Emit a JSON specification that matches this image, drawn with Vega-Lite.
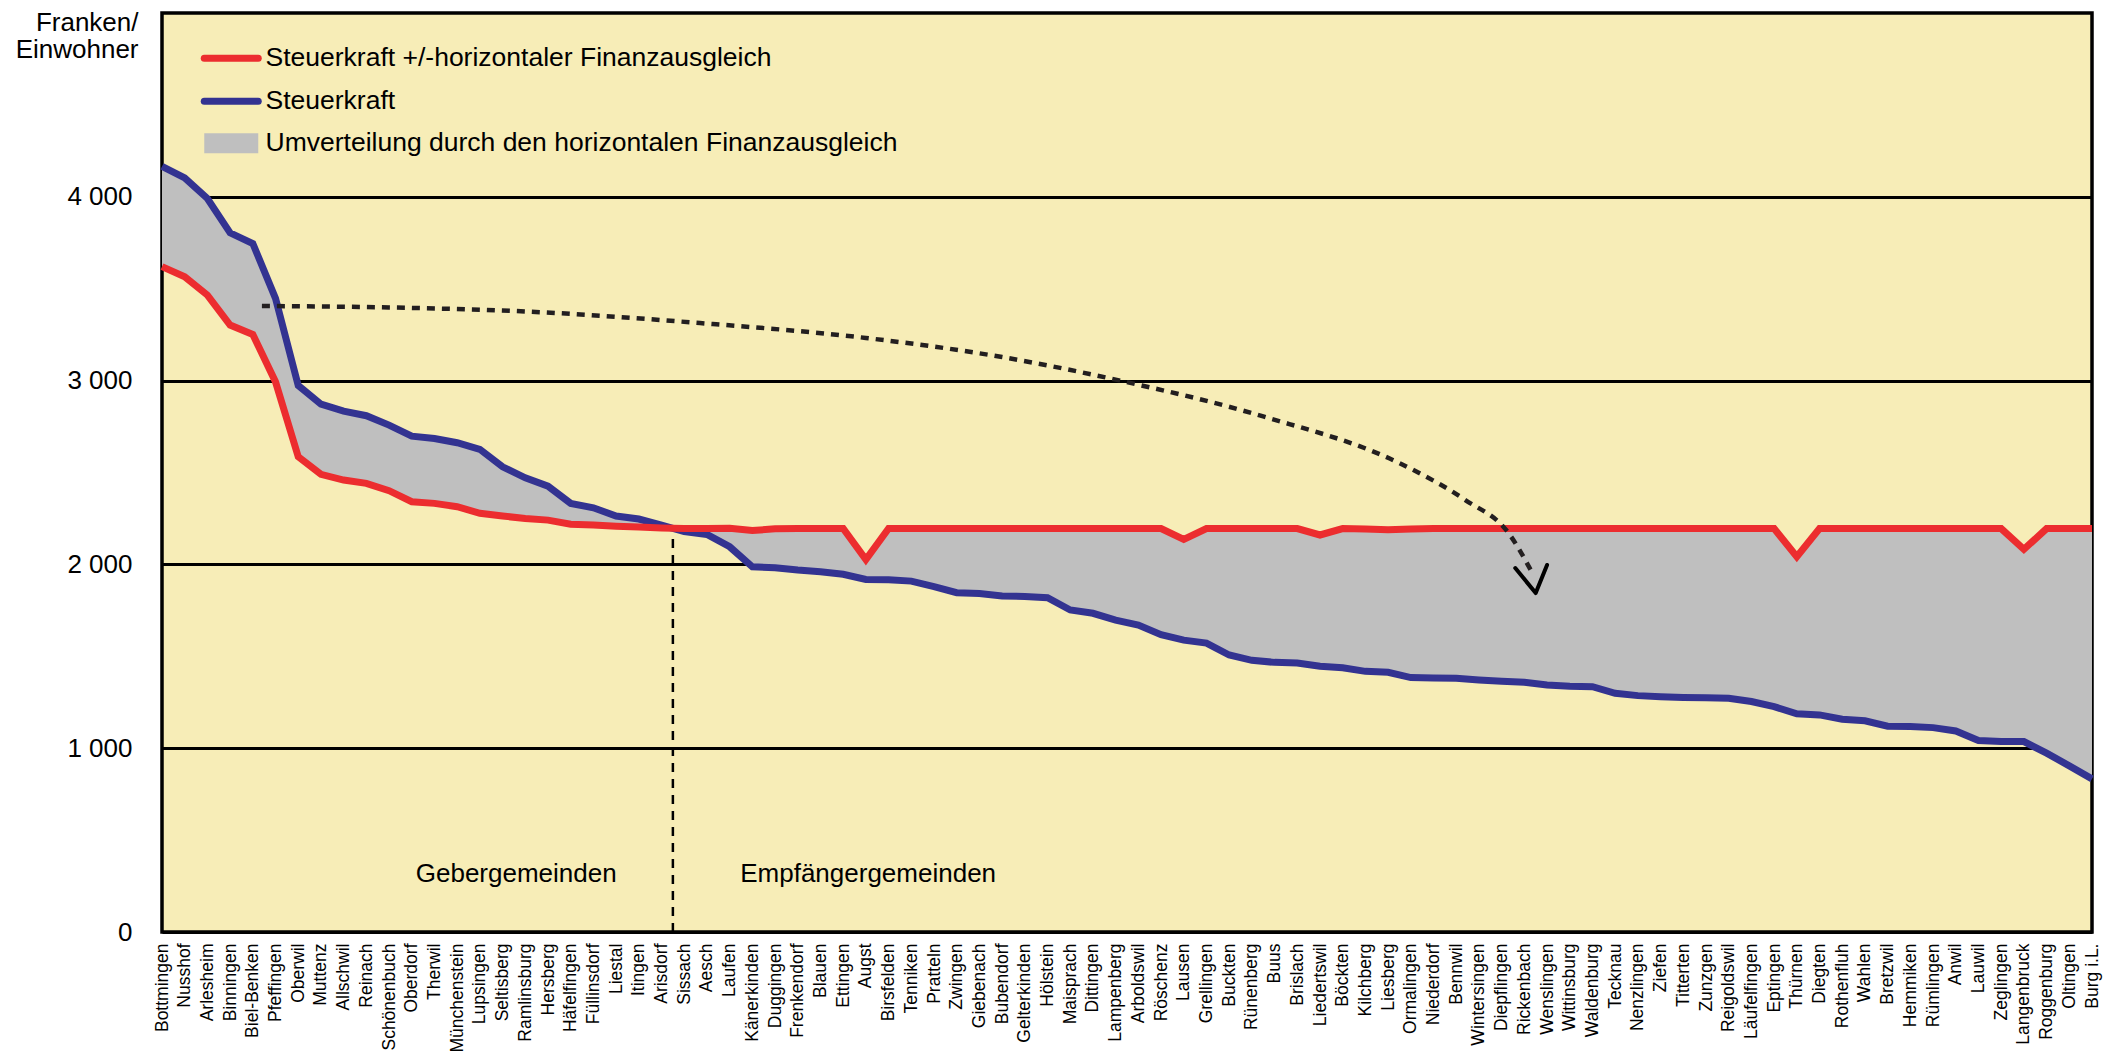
{
  "$schema": "https://vega.github.io/schema/vega-lite/v6.json",
  "width": 1930,
  "height": 919,
  "autosize": {"type": "none"},
  "padding": {"left": 162, "top": 13, "right": 27, "bottom": 124},
  "background": "#ffffff",
  "config": {
    "font": "Liberation Sans",
    "view": {"fill": "#f7edb7", "stroke": "#000000", "strokeWidth": 3.5}
  },
  "datasets": {
    "gemeinden": [
      {"i": 0, "name": "Bottmingen", "Steuerkraft": 4165, "nach_FA": 3620},
      {"i": 1, "name": "Nusshof", "Steuerkraft": 4103, "nach_FA": 3565},
      {"i": 2, "name": "Arlesheim", "Steuerkraft": 3991, "nach_FA": 3465},
      {"i": 3, "name": "Binningen", "Steuerkraft": 3804, "nach_FA": 3302},
      {"i": 4, "name": "Biel-Benken", "Steuerkraft": 3746, "nach_FA": 3251},
      {"i": 5, "name": "Pfeffingen", "Steuerkraft": 3447, "nach_FA": 2993},
      {"i": 6, "name": "Oberwil", "Steuerkraft": 2973, "nach_FA": 2586},
      {"i": 7, "name": "Muttenz", "Steuerkraft": 2872, "nach_FA": 2490},
      {"i": 8, "name": "Allschwil", "Steuerkraft": 2834, "nach_FA": 2459},
      {"i": 9, "name": "Reinach", "Steuerkraft": 2809, "nach_FA": 2441},
      {"i": 10, "name": "Schönenbuch", "Steuerkraft": 2758, "nach_FA": 2401},
      {"i": 11, "name": "Oberdorf", "Steuerkraft": 2698, "nach_FA": 2341},
      {"i": 12, "name": "Therwil", "Steuerkraft": 2685, "nach_FA": 2332},
      {"i": 13, "name": "Münchenstein", "Steuerkraft": 2662, "nach_FA": 2314},
      {"i": 14, "name": "Lupsingen", "Steuerkraft": 2626, "nach_FA": 2278},
      {"i": 15, "name": "Seltisberg", "Steuerkraft": 2531, "nach_FA": 2263},
      {"i": 16, "name": "Ramlinsburg", "Steuerkraft": 2471, "nach_FA": 2250},
      {"i": 17, "name": "Hersberg", "Steuerkraft": 2426, "nach_FA": 2241},
      {"i": 18, "name": "Häfelfingen", "Steuerkraft": 2332, "nach_FA": 2219},
      {"i": 19, "name": "Füllinsdorf", "Steuerkraft": 2308, "nach_FA": 2214},
      {"i": 20, "name": "Liestal", "Steuerkraft": 2263, "nach_FA": 2208},
      {"i": 21, "name": "Itingen", "Steuerkraft": 2247, "nach_FA": 2203},
      {"i": 22, "name": "Arisdorf", "Steuerkraft": 2214, "nach_FA": 2198},
      {"i": 23, "name": "Sissach", "Steuerkraft": 2178, "nach_FA": 2195},
      {"i": 24, "name": "Aesch", "Steuerkraft": 2163, "nach_FA": 2195},
      {"i": 25, "name": "Laufen", "Steuerkraft": 2096, "nach_FA": 2196},
      {"i": 26, "name": "Känerkinden", "Steuerkraft": 1987, "nach_FA": 2184},
      {"i": 27, "name": "Duggingen", "Steuerkraft": 1982, "nach_FA": 2194},
      {"i": 28, "name": "Frenkendorf", "Steuerkraft": 1969, "nach_FA": 2195},
      {"i": 29, "name": "Blauen", "Steuerkraft": 1960, "nach_FA": 2195},
      {"i": 30, "name": "Ettingen", "Steuerkraft": 1946, "nach_FA": 2195},
      {"i": 31, "name": "Augst", "Steuerkraft": 1918, "nach_FA": 2026},
      {"i": 32, "name": "Birsfelden", "Steuerkraft": 1917, "nach_FA": 2195},
      {"i": 33, "name": "Tenniken", "Steuerkraft": 1909, "nach_FA": 2195},
      {"i": 34, "name": "Pratteln", "Steuerkraft": 1879, "nach_FA": 2195},
      {"i": 35, "name": "Zwingen", "Steuerkraft": 1846, "nach_FA": 2195},
      {"i": 36, "name": "Giebenach", "Steuerkraft": 1842, "nach_FA": 2195},
      {"i": 37, "name": "Bubendorf", "Steuerkraft": 1828, "nach_FA": 2195},
      {"i": 38, "name": "Gelterkinden", "Steuerkraft": 1826, "nach_FA": 2195},
      {"i": 39, "name": "Hölstein", "Steuerkraft": 1819, "nach_FA": 2195},
      {"i": 40, "name": "Maisprach", "Steuerkraft": 1752, "nach_FA": 2195},
      {"i": 41, "name": "Dittingen", "Steuerkraft": 1734, "nach_FA": 2195},
      {"i": 42, "name": "Lampenberg", "Steuerkraft": 1697, "nach_FA": 2195},
      {"i": 43, "name": "Arboldswil", "Steuerkraft": 1670, "nach_FA": 2195},
      {"i": 44, "name": "Röschenz", "Steuerkraft": 1618, "nach_FA": 2195},
      {"i": 45, "name": "Lausen", "Steuerkraft": 1588, "nach_FA": 2136},
      {"i": 46, "name": "Grellingen", "Steuerkraft": 1572, "nach_FA": 2195},
      {"i": 47, "name": "Buckten", "Steuerkraft": 1507, "nach_FA": 2195},
      {"i": 48, "name": "Rünenberg", "Steuerkraft": 1478, "nach_FA": 2195},
      {"i": 49, "name": "Buus", "Steuerkraft": 1467, "nach_FA": 2195},
      {"i": 50, "name": "Brislach", "Steuerkraft": 1464, "nach_FA": 2195},
      {"i": 51, "name": "Liedertswil", "Steuerkraft": 1446, "nach_FA": 2160},
      {"i": 52, "name": "Böckten", "Steuerkraft": 1438, "nach_FA": 2195},
      {"i": 53, "name": "Kilchberg", "Steuerkraft": 1418, "nach_FA": 2192},
      {"i": 54, "name": "Liesberg", "Steuerkraft": 1413, "nach_FA": 2188},
      {"i": 55, "name": "Ormalingen", "Steuerkraft": 1384, "nach_FA": 2193},
      {"i": 56, "name": "Niederdorf", "Steuerkraft": 1382, "nach_FA": 2195},
      {"i": 57, "name": "Bennwil", "Steuerkraft": 1380, "nach_FA": 2195},
      {"i": 58, "name": "Wintersingen", "Steuerkraft": 1371, "nach_FA": 2195},
      {"i": 59, "name": "Diepflingen", "Steuerkraft": 1364, "nach_FA": 2195},
      {"i": 60, "name": "Rickenbach", "Steuerkraft": 1359, "nach_FA": 2195},
      {"i": 61, "name": "Wenslingen", "Steuerkraft": 1344, "nach_FA": 2195},
      {"i": 62, "name": "Wittinsburg", "Steuerkraft": 1337, "nach_FA": 2195},
      {"i": 63, "name": "Waldenburg", "Steuerkraft": 1335, "nach_FA": 2195},
      {"i": 64, "name": "Tecknau", "Steuerkraft": 1299, "nach_FA": 2195},
      {"i": 65, "name": "Nenzlingen", "Steuerkraft": 1286, "nach_FA": 2195},
      {"i": 66, "name": "Ziefen", "Steuerkraft": 1280, "nach_FA": 2195},
      {"i": 67, "name": "Titterten", "Steuerkraft": 1276, "nach_FA": 2195},
      {"i": 68, "name": "Zunzgen", "Steuerkraft": 1274, "nach_FA": 2195},
      {"i": 69, "name": "Reigoldswil", "Steuerkraft": 1272, "nach_FA": 2195},
      {"i": 70, "name": "Läufelfingen", "Steuerkraft": 1254, "nach_FA": 2195},
      {"i": 71, "name": "Eptingen", "Steuerkraft": 1226, "nach_FA": 2195},
      {"i": 72, "name": "Thürnen", "Steuerkraft": 1187, "nach_FA": 2042},
      {"i": 73, "name": "Diegten", "Steuerkraft": 1181, "nach_FA": 2195},
      {"i": 74, "name": "Rothenfluh", "Steuerkraft": 1158, "nach_FA": 2195},
      {"i": 75, "name": "Wahlen", "Steuerkraft": 1149, "nach_FA": 2195},
      {"i": 76, "name": "Bretzwil", "Steuerkraft": 1120, "nach_FA": 2195},
      {"i": 77, "name": "Hemmiken", "Steuerkraft": 1118, "nach_FA": 2195},
      {"i": 78, "name": "Rümlingen", "Steuerkraft": 1112, "nach_FA": 2195},
      {"i": 79, "name": "Anwil", "Steuerkraft": 1094, "nach_FA": 2195},
      {"i": 80, "name": "Lauwil", "Steuerkraft": 1042, "nach_FA": 2195},
      {"i": 81, "name": "Zeglingen", "Steuerkraft": 1036, "nach_FA": 2195},
      {"i": 82, "name": "Langenbruck", "Steuerkraft": 1036, "nach_FA": 2082},
      {"i": 83, "name": "Roggenburg", "Steuerkraft": 973, "nach_FA": 2195},
      {"i": 84, "name": "Oltingen", "Steuerkraft": 904, "nach_FA": 2195},
      {"i": 85, "name": "Burg i.L.", "Steuerkraft": 833, "nach_FA": 2195}
    ],
    "pfeil": [
      {"x": 4.4, "y": 3406},
      {"x": 10, "y": 3398},
      {"x": 16, "y": 3376},
      {"x": 23.7, "y": 3313},
      {"x": 31, "y": 3232},
      {"x": 37, "y": 3128},
      {"x": 42.3, "y": 2997},
      {"x": 48.5, "y": 2805},
      {"x": 54.6, "y": 2545},
      {"x": 57.4, "y": 2350},
      {"x": 59.3, "y": 2171},
      {"x": 60.4, "y": 1942}
    ],
    "pfeilspitze": [
      {"x": 59.6, "y": 1980},
      {"x": 60.5, "y": 1844},
      {"x": 61.0, "y": 1997}
    ],
    "trenner": [{"x": 22.5, "y": 0, "y2": 2168}],
    "beschriftung": [
      {"x": 15.6, "y": 313, "text": "Gebergemeinden"},
      {"x": 31.1, "y": 313, "text": "Empfängergemeinden"}
    ]
  },
  "layer": [
    {
      "data": {"name": "gemeinden"},
      "mark": {"type": "area", "fill": "#bfbfbf", "opacity": 1},
      "encoding": {
        "x": {
          "field": "i",
          "type": "quantitative",
          "scale": {"domain": [0, 85], "nice": false, "zero": false},
          "axis": {
            "title": null,
            "values": [0,1,2,3,4,5,6,7,8,9,10,11,12,13,14,15,16,17,18,19,20,21,22,23,24,25,26,27,28,29,30,31,32,33,34,35,36,37,38,39,40,41,42,43,44,45,46,47,48,49,50,51,52,53,54,55,56,57,58,59,60,61,62,63,64,65,66,67,68,69,70,71,72,73,74,75,76,77,78,79,80,81,82,83,84,85],
            "tickCount": 200,
            "labelExpr": "['Bottmingen','Nusshof','Arlesheim','Binningen','Biel-Benken','Pfeffingen','Oberwil','Muttenz','Allschwil','Reinach','Schönenbuch','Oberdorf','Therwil','Münchenstein','Lupsingen','Seltisberg','Ramlinsburg','Hersberg','Häfelfingen','Füllinsdorf','Liestal','Itingen','Arisdorf','Sissach','Aesch','Laufen','Känerkinden','Duggingen','Frenkendorf','Blauen','Ettingen','Augst','Birsfelden','Tenniken','Pratteln','Zwingen','Giebenach','Bubendorf','Gelterkinden','Hölstein','Maisprach','Dittingen','Lampenberg','Arboldswil','Röschenz','Lausen','Grellingen','Buckten','Rünenberg','Buus','Brislach','Liedertswil','Böckten','Kilchberg','Liesberg','Ormalingen','Niederdorf','Bennwil','Wintersingen','Diepflingen','Rickenbach','Wenslingen','Wittinsburg','Waldenburg','Tecknau','Nenzlingen','Ziefen','Titterten','Zunzgen','Reigoldswil','Läufelfingen','Eptingen','Thürnen','Diegten','Rothenfluh','Wahlen','Bretzwil','Hemmiken','Rümlingen','Anwil','Lauwil','Zeglingen','Langenbruck','Roggenburg','Oltingen','Burg i.L.'][datum.value]",
            "labelAngle": -90,
            "labelAlign": "right",
            "labelBaseline": "middle",
            "labelFontSize": 17.5,
            "labelColor": "#000000",
            "labelPadding": 11,
            "labelOverlap": false,
            "labelFlush": false,
            "labelBound": false,
            "ticks": false,
            "domain": false,
            "grid": false
          }
        },
        "y": {
          "field": "Steuerkraft",
          "type": "quantitative",
          "scale": {"domain": [0, 5000], "nice": false},
          "axis": {
            "title": ["Franken/", "Einwohner"],
            "titleAngle": 0,
            "titleAlign": "right",
            "titleBaseline": "top",
            "titleX": -24,
            "titleY": -4,
            "titleFontSize": 26,
            "titleFontWeight": "normal",
            "titleLineHeight": 27,
            "titleColor": "#000000",
            "values": [0, 1000, 2000, 3000, 4000],
            "labelExpr": "replace(format(datum.value, ','), ',', ' ')",
            "labelFontSize": 26,
            "labelColor": "#000000",
            "labelPadding": 30,
            "ticks": false,
            "domain": false,
            "grid": true,
            "gridColor": "#000000",
            "gridWidth": 3,
            "gridOpacity": 1
          }
        },
        "y2": {"field": "nach_FA"}
      }
    },
    {
      "data": {"name": "gemeinden"},
      "transform": [{"fold": ["Steuerkraft", "nach_FA"], "as": ["series", "value"]}],
      "mark": {"type": "line", "strokeWidth": 7, "strokeJoin": "miter", "strokeCap": "butt"},
      "encoding": {
        "x": {"field": "i", "type": "quantitative"},
        "y": {"field": "value", "type": "quantitative"},
        "color": {
          "field": "series",
          "type": "nominal",
          "scale": {
            "domain": ["nach_FA", "Steuerkraft", "Umverteilung"],
            "range": ["#ec2d2f", "#333391", "#bfbfbf"]
          },
          "legend": {
            "orient": "none",
            "legendX": 56,
            "legendY": 32,
            "title": null,
            "padding": 0,
            "labelFontSize": 26.5,
            "labelColor": "#000000",
            "labelLimit": 2000,
            "labelOffset": 21,
            "symbolSize": 1296,
            "rowPadding": 14,
            "symbolType": "M-1.5,0H1.5",
            "labelExpr": "datum.value == 'nach_FA' ? 'Steuerkraft +/-horizontaler Finanzausgleich' : datum.value == 'Steuerkraft' ? 'Steuerkraft' : 'Umverteilung durch den horizontalen Finanzausgleich'",
            "encode": {
              "symbols": {
                "update": {
                  "shape": {"signal": "datum.index == 2 ? 'M-1.5,-0.56H1.5V0.56H-1.5Z' : 'M-1.5,0H1.5'"},
                  "fill": {"signal": "datum.index == 2 ? '#bfbfbf' : 'transparent'"},
                  "stroke": {"signal": "datum.index == 0 ? '#ec2d2f' : datum.index == 1 ? '#333391' : 'transparent'"},
                  "strokeWidth": {"signal": "datum.index == 2 ? 0 : 7"},
                  "strokeCap": {"value": "round"},
                  "opacity": {"value": 1},
                  "fillOpacity": {"value": 1}
                }
              }
            }
          }
        }
      }
    },
    {
      "data": {"name": "trenner"},
      "mark": {"type": "rule", "color": "#000000", "strokeWidth": 2.5, "strokeDash": [9, 7]},
      "encoding": {
        "x": {"field": "x", "type": "quantitative"},
        "y": {"field": "y", "type": "quantitative"},
        "y2": {"field": "y2"}
      }
    },
    {
      "data": {"name": "pfeil"},
      "mark": {"type": "line", "color": "#231f20", "strokeWidth": 4.5, "strokeDash": [8, 7], "interpolate": "monotone"},
      "encoding": {
        "x": {"field": "x", "type": "quantitative"},
        "y": {"field": "y", "type": "quantitative"}
      }
    },
    {
      "data": {"name": "pfeilspitze"},
      "mark": {"type": "line", "color": "#000000", "strokeWidth": 4, "strokeCap": "round", "strokeJoin": "round"},
      "encoding": {
        "x": {"field": "x", "type": "quantitative"},
        "y": {"field": "y", "type": "quantitative"}
      }
    },
    {
      "data": {"name": "beschriftung"},
      "mark": {"type": "text", "fontSize": 26, "color": "#000000", "align": "center", "baseline": "middle"},
      "encoding": {
        "x": {"field": "x", "type": "quantitative"},
        "y": {"field": "y", "type": "quantitative"},
        "text": {"field": "text"}
      }
    }
  ]
}
